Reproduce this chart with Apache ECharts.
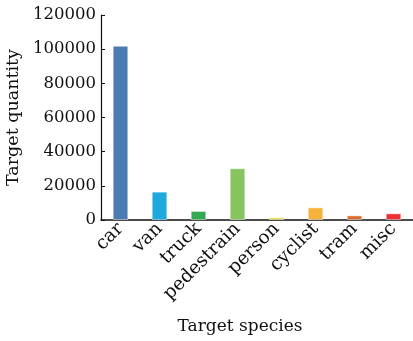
<!DOCTYPE html>
<html>
<head>
<meta charset="utf-8">
<script src="https://cdn.jsdelivr.net/npm/echarts@6/dist/echarts.min.js"></script>
<style>html,body{margin:0;padding:0;background:#fff;}#c{width:413px;height:341px;}</style>
</head>
<body>
<div id="c"></div>
<script>
var categories = ['car', 'van', 'truck', 'pedestrain', 'person', 'cyclist', 'tram', 'misc'];
var values = [102000, 16600, 5300, 30300, 1600, 7400, 2700, 3900];
var barColors = ['#4c7bb2', '#1ea9df', '#34a853', '#86c45e', '#e6e23c', '#f6b33b', '#dc6c2c', '#ee3033'];
var yTicks = [0, 20000, 40000, 60000, 80000, 100000, 120000];

var font = 'DejaVu Serif';
var chart = echarts.init(document.getElementById('c'), null, {renderer: 'canvas'});
chart.setOption({
  animation: false,
  backgroundColor: '#fff',
  grid: {left: 101, top: 15, width: 312, bottom: 121, containLabel: false, outerBoundsMode: 'none'},
  xAxis: {
    type: 'category',
    data: categories,
    name: 'Target species',
    nameLocation: 'middle',
    nameGap: 98,
    nameTextStyle: {fontFamily: font, fontSize: 17, color: '#111', padding: [0, 34, 0, 0]},
    axisLine: {lineStyle: {color: '#111', width: 1.5}},
    axisTick: {show: false},
    axisLabel: {rotate: 45, fontFamily: font, fontSize: 18.5, color: '#111', margin: 6, interval: 0}
  },
  yAxis: {
    type: 'value',
    min: yTicks[0],
    max: yTicks[yTicks.length - 1],
    interval: 20000,
    name: 'Target quantity',
    nameLocation: 'middle',
    nameGap: 77,
    nameTextStyle: {fontFamily: font, fontSize: 17.5, color: '#111'},
    axisLine: {show: true, lineStyle: {color: '#111', width: 1.2}},
    axisTick: {show: true, inside: true, length: 4, lineStyle: {color: '#111'}},
    axisLabel: {fontFamily: font, fontSize: 16.5, color: '#111', margin: 5,
      formatter: function (v) { return String(v); }},
    splitLine: {show: false}
  },
  series: [{
    type: 'bar',
    data: values.map(function (v, i) {
      return {value: v, itemStyle: {color: barColors[i]}};
    }),
    barWidth: '40%',
    itemStyle: {borderColor: 'rgba(255,255,255,0.45)', borderWidth: 1}
  }]
});
</script>
</body>
</html>
